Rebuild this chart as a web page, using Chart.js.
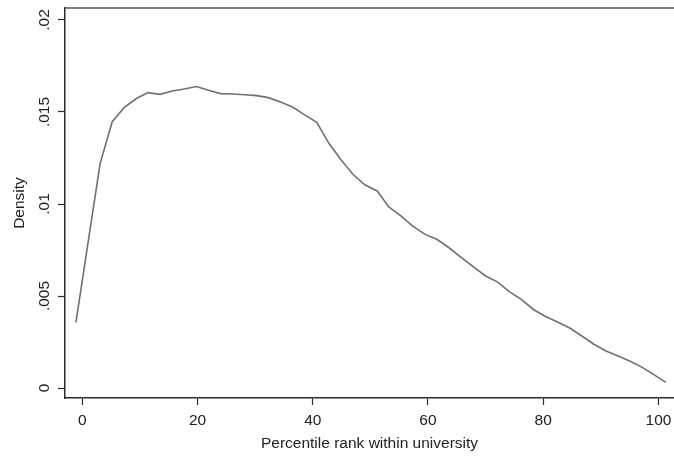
<!DOCTYPE html>
<html>
<head>
<meta charset="utf-8">
<script src="https://cdn.jsdelivr.net/npm/chart.js@4"></script>
<style>
    html, body { margin: 0; padding: 0; background: #fff; }
    #wrap { width: 674px; height: 456px; }
</style>
</head>
<body>
<div id="wrap"><canvas id="densityChart" width="674" height="456"></canvas></div>
<script>
// Kernel density estimate
const percentile = [
    -1.1, 1.0, 3.1, 5.2, 7.3, 9.4, 11.4, 13.5, 15.6, 17.7,
    19.8, 21.9, 24.0, 26.1, 28.2, 30.3, 32.3, 34.4, 36.5, 38.6,
    40.7, 42.8, 44.9, 47.0, 49.1, 51.2, 53.2, 55.3, 57.4, 59.5,
    61.6, 63.7, 65.8, 67.9, 70.0, 72.1, 74.1, 76.2, 78.3, 80.4,
    82.5, 84.6, 86.7, 88.8, 90.9, 93.0, 95.0, 97.1, 99.2, 101.3
];
const density = [
    0.00357, 0.00790, 0.01221, 0.01447, 0.01525, 0.01573, 0.01605, 0.01596, 0.01614, 0.01625,
    0.01638, 0.01618, 0.01600, 0.01598, 0.01594, 0.01589, 0.01578, 0.01554, 0.01527, 0.01484,
    0.01444, 0.01330, 0.01240, 0.01160, 0.01103, 0.01071, 0.00984, 0.00935, 0.00878, 0.00835,
    0.00807, 0.00761, 0.00709, 0.00658, 0.00609, 0.00576, 0.00524, 0.00482, 0.00427, 0.00389,
    0.00359, 0.00326, 0.00283, 0.00238, 0.00201, 0.00174, 0.00147, 0.00114, 0.00073, 0.00031
];
const xTicks = [0, 20, 40, 60, 80, 100];
const yTicks = [0, 0.005, 0.01, 0.015, 0.02];
const yTickLabels = ['0', '.005', '.01', '.015', '.02'];

const FONT_FAMILY = '"Liberation Sans", Arial, Helvetica, sans-serif';
const FONT_SIZE = 15.5;
const TEXT_COLOR = '#222';
const AXIS_COLOR = '#2b2b2b';

// Top outline of the plot region and the rotated y tick labels (Stata style)
const stataFrame = {
    id: 'stataFrame',
    afterDraw(chart) {
        const { ctx, chartArea, scales } = chart;
        ctx.save();
        ctx.strokeStyle = '#555';
        ctx.lineWidth = 1.5;
        ctx.beginPath();
        ctx.moveTo(chartArea.left, chartArea.top);
        ctx.lineTo(chartArea.right, chartArea.top);
        ctx.stroke();

        ctx.fillStyle = TEXT_COLOR;
        ctx.font = `${FONT_SIZE}px ${FONT_FAMILY}`;
        ctx.textAlign = 'center';
        ctx.textBaseline = 'middle';
        yTicks.forEach((v, i) => {
            const y = scales.y.getPixelForValue(v);
            ctx.save();
            ctx.translate(45, y);
            ctx.rotate(-Math.PI / 2);
            ctx.fillText(yTickLabels[i], 0, 0);
            ctx.restore();
        });
        ctx.restore();
    }
};

const ctx = document.getElementById('densityChart').getContext('2d');
new Chart(ctx, {
    type: 'line',
    data: {
        datasets: [{
            data: percentile.map((x, i) => ({ x: x, y: density[i] })),
            borderColor: '#707070',
            borderWidth: 1.6,
            pointRadius: 0,
            tension: 0,
            fill: false
        }]
    },
    options: {
        responsive: false,
        animation: false,
        layout: { padding: { top: 8, right: 0, left: 0, bottom: 0 } },
        plugins: {
            legend: { display: false },
            tooltip: { enabled: false }
        },
        scales: {
            x: {
                type: 'linear',
                min: -3,
                max: 102.7,
                afterBuildTicks: scale => { scale.ticks = xTicks.map(v => ({ value: v })); },
                afterFit: scale => {
                    scale.height = 58;
                    scale.paddingLeft = 0;
                    scale.paddingRight = 0;
                },
                grid: {
                    drawOnChartArea: false,
                    drawTicks: true,
                    tickLength: 7,
                    tickWidth: 1.2,
                    tickColor: AXIS_COLOR
                },
                border: { display: true, color: AXIS_COLOR, width: 1.5 },
                ticks: {
                    color: TEXT_COLOR,
                    font: { family: FONT_FAMILY, size: FONT_SIZE },
                    padding: 6,
                    maxRotation: 0,
                    callback: value => String(value)
                },
                title: {
                    display: true,
                    text: 'Percentile rank within university',
                    color: TEXT_COLOR,
                    font: { family: FONT_FAMILY, size: FONT_SIZE },
                    padding: { top: 0, bottom: 3 }
                }
            },
            y: {
                type: 'linear',
                min: -0.00054,
                max: 0.02065,
                afterBuildTicks: scale => { scale.ticks = yTicks.map(v => ({ value: v })); },
                afterFit: scale => { scale.width = 65; },
                grid: {
                    drawOnChartArea: false,
                    drawTicks: true,
                    tickLength: 7,
                    tickWidth: 1.2,
                    tickColor: AXIS_COLOR
                },
                border: { display: true, color: AXIS_COLOR, width: 1.5 },
                ticks: { display: false },
                title: {
                    display: true,
                    text: 'Density',
                    color: TEXT_COLOR,
                    font: { family: FONT_FAMILY, size: FONT_SIZE },
                    padding: { top: 10, bottom: 0 }
                }
            }
        }
    },
    plugins: [stataFrame]
});
</script>
</body>
</html>
